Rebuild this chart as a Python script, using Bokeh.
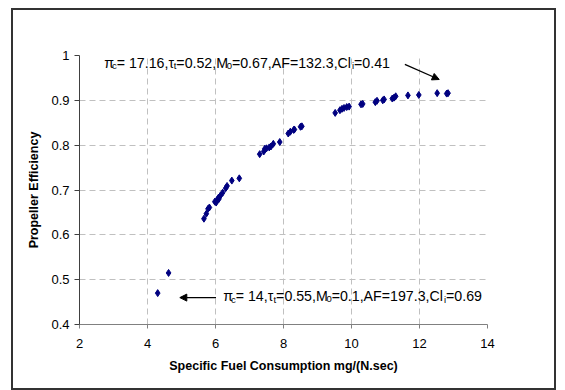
from bokeh.plotting import figure
from bokeh.models import Label, Arrow, NormalHead, FixedTicker, ColumnDataSource
from bokeh.embed import file_html
from bokeh.resources import INLINE

# ---- data ----
sfc = [4.30, 4.62,
       5.66, 5.73, 5.78, 5.82, 5.98, 6.02, 6.05, 6.09, 6.10, 6.15, 6.21, 6.30, 6.34, 6.48, 6.70,
       7.30, 7.42, 7.45, 7.50, 7.58, 7.63, 7.70, 7.89,
       8.14, 8.20, 8.30, 8.32, 8.50, 8.54,
       9.52, 9.66, 9.72, 9.78, 9.86, 9.93, 10.28, 10.33, 10.70, 10.75, 10.92, 10.96,
       11.20, 11.25, 11.30, 11.66, 11.98, 12.52, 12.80, 12.84]
eff = [0.470, 0.515,
       0.636, 0.647, 0.658, 0.661, 0.674, 0.672, 0.678, 0.683, 0.680, 0.688, 0.694, 0.704, 0.709, 0.721, 0.726,
       0.780, 0.786, 0.792, 0.793, 0.795, 0.797, 0.803, 0.807,
       0.826, 0.830, 0.834, 0.835, 0.841, 0.842,
       0.872, 0.878, 0.881, 0.883, 0.885, 0.886, 0.891, 0.892, 0.896, 0.899, 0.900, 0.902,
       0.904, 0.906, 0.909, 0.911, 0.912, 0.916, 0.915, 0.916]

x_ticks = [2, 4, 6, 8, 10, 12, 14]
y_ticks = [0.4, 0.5, 0.6, 0.7, 0.8, 0.9, 1.0]
y_tick_labels = ["0.4", "0.5", "0.6", "0.7", "0.8", "0.9", "1"]

x_title = "Specific Fuel Consumption mg/(N.sec)"
y_title = "Propeller Efficiency"

# annotation text pieces: (text, is_subscript)
note_high = [("\u03c0", False), ("c", True), ("= 17.16,\u03c4", False), ("t", True),
             ("=0.52,M", False), ("0", True), (" =0.67,AF=132.3,Cl", False), ("i", True),
             ("=0.41", False)]
note_low = [("\u03c0", False), ("c", True), ("= 14,\u03c4", False), ("t", True),
            ("=0.55,M", False), ("0", True), (" =0.1,AF=197.3,Cl", False), ("i", True),
            ("=0.69", False)]

FONT = "Liberation Sans"

# the figure element itself is the framed chart area (outline drawn just outside it)
p = figure(width=541, height=378, x_range=(2, 14), y_range=(0.4, 1.0),
           output_backend="svg", toolbar_location=None,
           min_border_left=66, min_border_top=45, min_border_right=67, min_border_bottom=64)
p.margin = (10, 0, 0, 13)
p.styles = {"outline": "2px solid #333333"}
p.outline_line_color = None
p.background_fill_color = "white"
p.border_fill_color = "white"

src = ColumnDataSource(dict(x=sfc, y=eff))
p.scatter("x", "y", source=src, marker="diamond", size=7, color="#000080")

# axes
p.xaxis.ticker = FixedTicker(ticks=x_ticks)
p.yaxis.ticker = FixedTicker(ticks=y_ticks)
p.yaxis.major_label_overrides = {t: l for t, l in zip(y_ticks, y_tick_labels)}
for ax in (p.xaxis[0], p.yaxis[0]):
    ax.minor_tick_line_color = None
    ax.major_tick_in = 0
    ax.major_label_text_font = FONT
    ax.major_label_text_font_size = "13px"
    ax.major_label_text_color = "black"
    ax.axis_label_text_font = FONT
    ax.axis_label_text_font_style = "bold"
    ax.axis_label_text_font_size = "12.5px"
    ax.axis_label_text_color = "black"
p.xaxis.axis_line_color = "#808080"
p.xaxis.major_tick_line_color = "#808080"
p.xaxis.major_tick_out = 4
p.xaxis.major_label_standoff = 10
p.xaxis.axis_label_standoff = 8
p.yaxis.axis_line_color = "#404040"
p.yaxis.major_tick_line_color = "#404040"
p.yaxis.major_tick_out = 5
p.yaxis.major_label_standoff = 5
p.yaxis.axis_label_standoff = 7
p.xaxis.axis_label = x_title
p.yaxis.axis_label = y_title

for g in (p.xgrid[0], p.ygrid[0]):
    g.grid_line_color = "#c0c0c0"
    g.grid_line_dash = "6 4"
    g.grid_line_width = 1

# rich text annotations
W = {" ": 278, ",": 278, ".": 278, "=": 584, "A": 667, "C": 722, "F": 611, "M": 833,
     "l": 222, "c": 500, "t": 278, "i": 222, "\u03c0": 560, "\u03c4": 480}
for d in "0123456789":
    W[d] = 556


def width(s, fs):
    return sum(W.get(ch, 556) for ch in s) / 1000.0 * fs * 0.975


def rich_label(x, y, parts, fs=14.2, sub_fs=9.5):
    off = 0.0
    for txt, sub in parts:
        size = sub_fs if sub else fs
        p.add_layout(Label(x=x, y=y, x_offset=off, y_offset=-3 if sub else 0, text=txt,
                           text_font=FONT, text_font_size=f"{size}px", text_color="black",
                           text_baseline="alphabetic", text_align="left"))
        off += width(txt, size)


rich_label(2.73, 0.984, note_high)
rich_label(6.23, 0.4625, note_low)

head = dict(size=7, fill_color="black", line_color="black")
p.add_layout(Arrow(end=NormalHead(**head), x_start=11.57, y_start=0.980, x_end=12.58, y_end=0.9465,
                   line_color="black", line_width=1.3))
p.add_layout(Arrow(end=NormalHead(**head), x_start=6.015, y_start=0.460, x_end=4.95, y_end=0.460,
                   line_color="black", line_width=1.3))

open("out.html", "w").write(file_html(p, INLINE))
